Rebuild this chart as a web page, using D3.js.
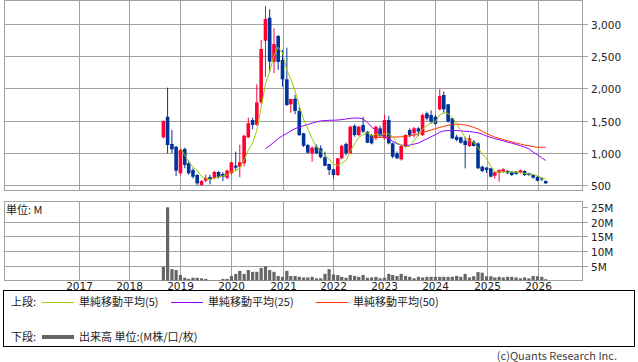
<!DOCTYPE html>
<html><head><meta charset="utf-8">
<script src="https://cdn.jsdelivr.net/npm/d3@7"></script>
<style>body{margin:0;background:#fff}svg{display:block}text{font-family:"Noto Sans CJK JP","Noto Sans",sans-serif}text.num{font-family:"DejaVu Sans",sans-serif}</style>
</head><body><svg id="c" width="638" height="362"></svg>
<script>
const months = ["2018-09","2018-10","2018-11","2018-12",
"2019-01","2019-02","2019-03","2019-04","2019-05","2019-06","2019-07","2019-08","2019-09","2019-10","2019-11","2019-12",
"2020-01","2020-02","2020-03","2020-04","2020-05","2020-06","2020-07","2020-08","2020-09","2020-10","2020-11","2020-12",
"2021-01","2021-02","2021-03","2021-04","2021-05","2021-06","2021-07","2021-08","2021-09","2021-10","2021-11","2021-12",
"2022-01","2022-02","2022-03","2022-04","2022-05","2022-06","2022-07","2022-08","2022-09","2022-10","2022-11","2022-12",
"2023-01","2023-02","2023-03","2023-04","2023-05","2023-06","2023-07","2023-08","2023-09","2023-10","2023-11","2023-12",
"2024-01","2024-02","2024-03","2024-04","2024-05","2024-06","2024-07","2024-08","2024-09","2024-10","2024-11","2024-12",
"2025-01","2025-02","2025-03","2025-04","2025-05","2025-06","2025-07","2025-08","2025-09","2025-10","2025-11","2025-12",
"2026-01","2026-02","2026-03"];
const open  = [1241,1560,1137,1095, 682,1059,837,733,655,500,567,624,613,702,671,613, 682,800,784,837,1241,1509,1436,1784,2741,3098,2415,2814, 2441,2141,1753,1840,1650,1303,1121,992,1095,1070,930,826, 743,655,914,1137,992,1420,1276,1432,1328,1276,1225,1380, 1225,1509,1147,992,899,1095,1354,1303,1380,1276,1613,1587, 1560,1675,1897,1753,1536,1250,1240,1188,1105,1173,1147,784, 769,759,644,691,707,718,707,707,691,718,681,655, 629,603,562];
const high  = [1500,2011,1354,1100, 1060,1080,880,760,670,575,660,660,720,715,700,740, 860,1017,1126,1280,1545,1545,2064,2752,3280,3228,2933,2830, 2596,2632,1840,1900,1710,1310,1140,1100,1130,1115,1017,830, 750,920,1125,1160,1420,1440,1420,1560,1340,1290,1420,1420, 1587,1574,1160,1020,1120,1290,1380,1400,1400,1610,1640,1660, 1590,1986,1950,1760,1540,1280,1250,1250,1275,1200,1160,800, 780,765,710,740,760,730,715,715,740,725,690,665, 640,620,570];
const low   = [1220,992,992,640, 650,760,660,600,500,490,545,510,590,600,560,590, 660,733,620,790,1230,1365,1420,1760,2182,2259,2239,2286, 2026,1727,1623,1600,1260,1090,990,862,980,915,790,655, 604,640,900,960,980,1250,1260,1310,1150,1130,1200,1230, 1210,1130,915,900,880,1080,1240,1240,1260,1260,1500,1450, 1430,1660,1620,1470,1210,1180,1140,759,1090,1100,750,700, 690,620,600,551,690,670,640,660,680,640,640,600, 555,560,515];
const close = [1494,1121,1054,722, 1043,811,682,629,526,562,613,582,702,629,629,722, 852,769,852,1265,1458,1432,1784,2612,3078,2415,2689,2410, 2141,1742,1835,1650,1276,1110,1002,1079,992,930,800,733, 655,914,1110,992,1405,1276,1405,1328,1157,1147,1405,1260, 1509,1147,939,915,1105,1276,1276,1380,1330,1587,1535,1483, 1450,1882,1675,1483,1225,1199,1157,1121,1225,1105,759,717, 733,629,697,733,744,681,655,670,728,655,655,614, 567,588,526];
const volume = [4.8,24.8,4.0,3.7, 2.0,1.1,0.7,1.1,1.1,0.9,0.7,0.3,0.3,0.3,0.7,0.7, 1.7,2.4,3.4,2.4,3.7,3.1,3.1,4.4,5.0,3.7,3.1,1.7, 1.4,3.4,1.7,1.7,1.4,1.2,1.2,1.4,0.9,0.9,2.4,4.0, 2.2,2.0,1.4,1.1,2.0,1.7,1.4,2.0,1.1,1.2,1.4,0.9, 1.1,2.4,2.0,1.7,2.4,1.7,1.4,0.9,1.4,1.2,1.4,1.4, 1.4,1.4,1.4,1.4,1.4,1.7,1.4,2.4,1.2,1.6,3.0,2.8, 1.6,1.6,1.2,1.4,1.2,1.4,1.4,1.2,0.9,1.2,0.9,1.7, 1.6,1.4,0.6];
const ma5 = [null,null,null,null, 1079,960,862,777,725,635,600,585,605,620,640,655, 705,720,765,890,1040,1150,1350,1700,2070,2260,2510,2640, 2550,2280,2150,1960,1730,1520,1370,1220,1090,1025,960,905, 820,805,840,880,1015,1140,1240,1280,1315,1265,1290,1270, 1295,1295,1250,1150,1125,1095,1100,1190,1275,1370,1420,1465, 1480,1590,1620,1610,1545,1455,1345,1240,1185,1160,1075,985, 910,790,705,700,705,695,700,700,695,680,670,665, 640,610,590];
const ma25 = [null,null,null,null, null,null,null,null,null,null,null,null,null,null,null,null, null,null,null,null,null,null,null,null,1065,1110,1165,1220, 1265,1300,1340,1375,1400,1420,1440,1460,1480,1495,1500,1505, 1505,1510,1515,1525,1535,1540,1540,1525,1470,1400,1350,1290, 1250,1210,1180,1140,1120,1115,1120,1135,1150,1185,1215,1250, 1280,1320,1340,1345,1345,1345,1340,1335,1330,1320,1310,1290, 1260,1240,1220,1205,1185,1165,1150,1130,1110,1090,1060,1010, 970,920,880];
const ma50 = [null,null,null,null, null,null,null,null,null,null,null,null,null,null,null,null, null,null,null,null,null,null,null,null,null,null,null,null, null,null,null,null,null,null,null,null,null,null,null,null, null,null,null,null,null,null,null,null,null,1240,1240,1240, 1242,1245,1245,1245,1248,1255,1265,1276,1295,1315,1335,1354, 1375,1395,1410,1425,1440,1445,1440,1432,1415,1395,1370,1335, 1300,1270,1245,1225,1205,1185,1170,1150,1135,1120,1110,1095, 1085,1085,1085];
const yearTicks = [2017,2018,2019,2020,2021,2022,2023,2024,2025,2026];
const priceTicks = [500,1000,1500,2000,2500,3000];
const volTicks = [5,10,15,20,25];

const svg = d3.select("#c");
const W = 638;
const L = 4, R = 582;
const top1 = 0.5, bot1 = 190.5, top2 = 201.5, bot2 = 280.5;
const parse = d3.timeParse("%Y-%m");
const dates = months.map(parse);
const x = d3.scaleTime().domain([new Date(2017,0,1), new Date(2026,0,1)]).range([78.5, 537.5]);
const y = d3.scaleLinear().domain([500, 3000]).range([185, 24]);
const yv = d3.scaleLinear().domain([0, 20]).range([281, 221.6]);
const grid = "#a0a0a0";

svg.append("rect").attr("width", W).attr("height", 362).attr("fill", "#fff");

function panel(t, b) {
  svg.append("rect").attr("x", L + 0.5).attr("y", t).attr("width", R - L).attr("height", b - t)
    .attr("fill", "none").attr("stroke", grid);
}
const gx = svg.append("g");
yearTicks.forEach(yr => {
  const px = Math.round(x(new Date(yr,0,1))) + 0.5;
  gx.append("line").attr("x1", px).attr("x2", px).attr("y1", top1).attr("y2", bot1).attr("stroke", grid);
  gx.append("line").attr("x1", px).attr("x2", px).attr("y1", top2).attr("y2", bot2).attr("stroke", grid);
  svg.append("text").attr("class", "num").attr("x", px).attr("y", 290).attr("text-anchor", "middle")
    .attr("font-size", 10.5).attr("fill", "#222").text(yr);
});
priceTicks.forEach(v => {
  const py = Math.round(y(v)) + 0.5;
  svg.append("line").attr("x1", L).attr("x2", R + 6).attr("y1", py).attr("y2", py).attr("stroke", grid);
  svg.append("text").attr("class", "num").attr("x", 591).attr("y", py + 4).attr("font-size", 10.5).attr("fill", "#222").text(d3.format(",")(v));
});
volTicks.forEach(v => {
  const py = Math.round(yv(v)) + 0.5;
  svg.append("line").attr("x1", v === 25 ? R : L).attr("x2", R + 6).attr("y1", py).attr("y2", py).attr("stroke", grid);
  svg.append("text").attr("class", "num").attr("x", 591).attr("y", py + 4).attr("font-size", 10.5).attr("fill", "#222").text(v + "M");
});
panel(top1, bot1);
panel(top2, bot2);

svg.append("text").attr("x", 6).attr("y", 214).attr("font-size", 11).attr("fill", "#222").text("単位: M");

svg.append("g").selectAll("rect").data(volume).join("rect")
  .attr("x", (d, i) => x(dates[i]) - 1.6).attr("width", 3.2)
  .attr("y", d => yv(d)).attr("height", d => yv(0) - yv(d) - 0.5)
  .attr("fill", "#666");

const cg = svg.append("g");
const red = "#ff0033", blue = "#003399";
months.forEach((m, i) => {
  const cx = x(dates[i]);
  const up = close[i] >= open[i];
  const col = up ? red : blue;
  cg.append("line").attr("x1", cx).attr("x2", cx).attr("y1", y(high[i])).attr("y2", y(low[i]))
    .attr("stroke", col).attr("stroke-width", 1);
  const t = y(Math.max(open[i], close[i])), b = y(Math.min(open[i], close[i]));
  cg.append("rect").attr("x", cx - 1.8).attr("width", 3.6).attr("y", t).attr("height", Math.max(1, b - t))
    .attr("fill", col);
});

function maLine(arr, col) {
  const line = d3.line().defined(d => d != null).x((d, i) => x(dates[i])).y(d => y(d));
  svg.append("path").attr("d", line(arr)).attr("fill", "none").attr("stroke", col).attr("stroke-width", 1);
}
maLine(ma50, "#ff3300");
maLine(ma25, "#9900ff");
maLine(ma5, "#99cc00");

svg.append("rect").attr("x", 3.5).attr("y", 290.5).attr("width", 631).attr("height", 56).attr("fill", "none").attr("stroke", "#000");
const lg = svg.append("g").attr("font-size", 11).attr("fill", "#222");
lg.append("text").attr("x", 11).attr("y", 306).text("上段:");
const items = [["#99cc00", 42, "単純移動平均(5)"], ["#9900ff", 171, "単純移動平均(25)"], ["#ff3300", 316, "単純移動平均(50)"]];
items.forEach(([c, px, t]) => {
  svg.append("line").attr("x1", px).attr("x2", px + 32).attr("y1", 302.5).attr("y2", 302.5).attr("stroke", c);
  lg.append("text").attr("x", px + 37).attr("y", 306).text(t);
});
lg.append("text").attr("x", 11).attr("y", 341).text("下段:");
svg.append("line").attr("x1", 42).attr("x2", 74).attr("y1", 337).attr("y2", 337).attr("stroke", "#666").attr("stroke-width", 4);
lg.append("text").attr("x", 79).attr("y", 341).text("出来高 単位:(M株/口/枚)");
svg.append("text").attr("x", 617).attr("y", 360).attr("text-anchor", "end").attr("font-size", 11).attr("fill", "#444").text("(c)Quants Research Inc.");
</script></body></html>
